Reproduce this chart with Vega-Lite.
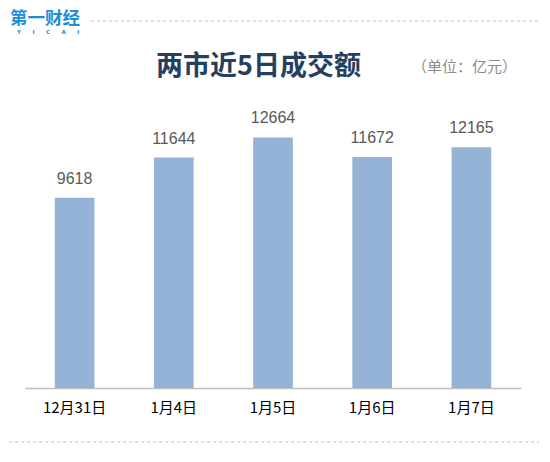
{
  "$schema": "https://vega.github.io/schema/vega-lite/v6.json",
  "width": 496,
  "height": 277,
  "autosize": "none",
  "padding": {"left": 25, "top": 111, "right": 29, "bottom": 74},
  "background": "white",
  "config": {"view": {"stroke": null}},
  "layer": [
    {
      "data": {"values": [
        {"date": "12月31日", "value": 9618},
        {"date": "1月4日", "value": 11644},
        {"date": "1月5日", "value": 12664},
        {"date": "1月6日", "value": 11672},
        {"date": "1月7日", "value": 12165}
      ]},
      "encoding": {
        "x": {
          "field": "date", "type": "nominal", "sort": null,
          "scale": {"paddingInner": 0.6, "paddingOuter": 0.3},
          "axis": {
            "title": null, "labelAngle": 0, "labelFont": "Noto Sans CJK SC",
            "labelFontSize": 15, "labelColor": "#000000", "labelPadding": 12,
            "ticks": false, "domainColor": "#BFBFBF", "domainWidth": 1.5, "grid": false
          }
        },
        "y": {"field": "value", "type": "quantitative", "scale": {"domain": [0, 14000], "nice": false}, "axis": null}
      },
      "layer": [
        {"mark": {"type": "bar", "color": "#95B3D7"}},
        {
          "mark": {"type": "text", "baseline": "alphabetic", "dy": -14, "font": "Liberation Sans", "fontSize": 16, "color": "#595959"},
          "encoding": {"text": {"field": "value", "type": "quantitative", "format": "d"}}
        }
      ]
    },
    {
      "encoding": {
        "x": {"field": "x", "type": "quantitative", "scale": {"domain": [0, 1]}, "axis": null},
        "y": {"field": "y", "type": "quantitative"}
      },
      "layer": [
        {
          "data": {"values": [
            {"x": 0.133, "x2": 1.04, "y": 18549},
            {"x": -0.032, "x2": 1.036, "y": -2729}
          ]},
          "mark": {"type": "rule", "color": "#BFBFBF", "strokeDash": [3, 3], "strokeWidth": 1},
          "encoding": {"x2": {"field": "x2"}}
        },
        {
          "data": {"values": [{"x": -0.030, "y": 18674, "label": "第一财经"}]},
          "mark": {"type": "text", "align": "left", "baseline": "middle", "font": "Noto Sans CJK SC", "fontSize": 17.5, "fontWeight": "bold", "color": "#1C8DD9"},
          "encoding": {"text": {"field": "label"}}
        },
        {
          "data": {"values": [{"x": -0.016, "y": 17993, "label": "Y\u00a0\u00a0\u00a0\u00a0\u00a0\u00a0I\u00a0\u00a0\u00a0\u00a0\u00a0\u00a0C\u00a0\u00a0\u00a0\u00a0\u00a0\u00a0A\u00a0\u00a0\u00a0\u00a0\u00a0\u00a0I"}]},
          "mark": {"type": "text", "align": "left", "baseline": "middle", "font": "DejaVu Sans", "fontSize": 5.5, "fontWeight": "bold", "color": "#1C8DD9"},
          "encoding": {"text": {"field": "label"}}
        },
        {
          "data": {"values": [{"x": 0.78, "y": 16224, "label": "（单位：亿元）"}]},
          "mark": {"type": "text", "align": "left", "baseline": "middle", "font": "Noto Sans CJK SC", "fontSize": 15, "color": "#8C8C8C"},
          "encoding": {"text": {"field": "label"}}
        },
        {
          "data": {"values": [{"x": 0.4708, "y": 16224, "label": "两市近5日成交额"}]},
          "mark": {"type": "text", "align": "center", "baseline": "middle", "font": "Noto Sans CJK SC", "fontSize": 27, "fontWeight": "bold", "color": "#243F60"},
          "encoding": {"text": {"field": "label"}}
        }
      ]
    }
  ],
  "resolve": {"scale": {"x": "independent"}}
}
